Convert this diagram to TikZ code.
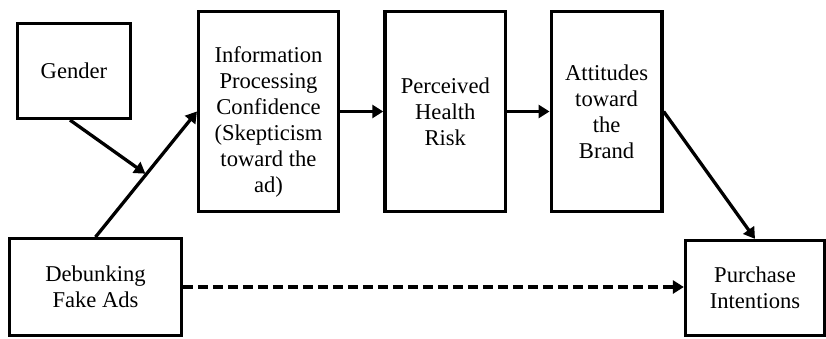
\documentclass[tikz,border=0pt]{standalone}
\usepackage{fontspec}
\setmainfont{Liberation Serif}
\usetikzlibrary{positioning,arrows.meta}
\tikzset{
  box/.style={draw, line width=1.65pt, inner sep=0pt, align=center,
    font=\fontsize{11.3}{13}\selectfont},
  tall/.style={box, minimum height=99.9pt},
  arr/.style={line width=1.65pt, -{Triangle[length=5.5pt,width=6.5pt]}},
  weak/.style={arr, dash pattern=on 5pt off 2.5pt},
}

\begin{document}
\begin{tikzpicture}[x=0.5pt,y=-0.5pt]
  \useasboundingbox (0,0) rectangle (826,338);
  % Define nodes
  \node[box, minimum width=56.4pt, minimum height=47.4pt] (gender) at (74,71) {Gender};
  \node[box, minimum width=85.8pt, minimum height=48.3pt] (debunk) at (95.5,287) {Debunking\\Fake Ads};
  \node[tall, minimum width=69.9pt] (info) at (268.5,111.5)
    {\rule{0pt}{18pt}Information\\Processing\\Confidence\\(Skepticism\\toward the\\ad)};
  \node[tall, minimum width=60.4pt, right=21.6pt of info] (risk) {Perceived\\Health\\Risk};
  \node[tall, minimum width=55.4pt, right=21.1pt of risk] (att) {Attitudes\\toward\\the\\Brand};
  \node[box, minimum width=69.5pt, minimum height=47.5pt] (buy) at (755,288) {Purchase\\Intentions};

  % Connect the nodes
  \draw[arr] (debunk.north) -- coordinate[pos=0.5] (m) (info.west);
  \draw[arr, shorten >=0.5pt] ([xshift=-2pt]gender.south) -- (m);
  \draw[arr] (info) -- (risk);
  \draw[arr] (risk) -- (att);
  \draw[arr] (att.east) -- (buy.north);
  \draw[weak] (debunk.east) -- (debunk.east -| buy.west);
\end{tikzpicture}
\end{document}
